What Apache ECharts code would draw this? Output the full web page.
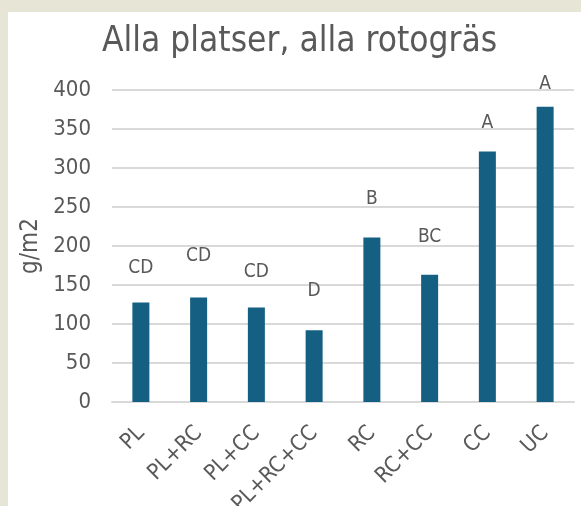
<!DOCTYPE html>
<html>
<head>
<meta charset="utf-8">
<script src="https://cdn.jsdelivr.net/npm/echarts@6/dist/echarts.min.js"></script>
<style>
  html, body { margin: 0; padding: 0; background: #E7E5D5; }
  #mychart { position: absolute; left: 8px; top: 12px; width: 573px; height: 494px; background: #fff; }
</style>
</head>
<body>
<div id="mychart"></div>
<script>
// kategorier
const categories = ['PL', 'PL+RC', 'PL+CC', 'PL+RC+CC', 'RC', 'RC+CC', 'CC', 'UC']
// biomassa g/m2
const biomass = [127.5, 134, 121, 92, 211, 163, 321, 378.5]
// signifikansbokstäver och deras höjd
const letters = ['CD', 'CD', 'CD', 'D', 'B', 'BC', 'A', 'A']
const letterY = [172, 186.5, 167, 142.5, 260, 211, 358, 408]

const font = '"DejaVu Sans Condensed", "DejaVu Sans", "Liberation Sans", sans-serif'
const textColor = '#595959'

const chart = echarts.init(document.getElementById('mychart'))

const option = {
  animation: false,
  textStyle: { fontFamily: font },
  title: {
    text: 'Alla platser, alla rotogräs',
    left: 89,
    top: 7,
    textStyle: { fontFamily: font, fontSize: 35, fontWeight: 'normal', color: textColor }
  },
  grid: {
    left: 104,
    right: 7,
    top: 78,
    bottom: 104,
    outerBoundsMode: 'none'
  },
  xAxis: {
    type: 'category',
    data: categories,
    axisLine: { show: true, lineStyle: { color: '#D9D9D9', width: 2 } },
    axisTick: { show: false },
    axisLabel: {
      rotate: 45,
      margin: 28,
      fontSize: 22,
      fontFamily: font,
      color: textColor,
      interval: 0
    }
  },
  yAxis: {
    type: 'value',
    min: 0,
    max: 400,
    interval: 50,
    name: 'g/m2',
    nameLocation: 'middle',
    nameGap: 66,
    nameRotate: 90,
    nameTextStyle: { fontSize: 24, fontFamily: font, color: textColor },
    axisLine: { show: false },
    axisTick: { show: false },
    axisLabel: { fontSize: 22, fontFamily: font, color: textColor, margin: 21 },
    splitLine: { lineStyle: { color: '#D9D9D9', width: 2 } }
  },
  series: [
    {
      name: 'g/m2',
      type: 'bar',
      data: biomass,
      barWidth: 17,
      itemStyle: { color: '#156082' }
    },
    {
      name: 'bokstäver',
      type: 'scatter',
      clip: false,
      symbolSize: 0,
      silent: true,
      itemStyle: { opacity: 1 },
      data: letterY.map((v, i) => ({
        value: [categories[i], v],
        label: { formatter: letters[i] }
      })),
      label: {
        show: true,
        position: 'inside',
        fontSize: 19,
        fontFamily: font,
        color: textColor
      }
    }
  ]
}

chart.setOption(option)
</script>
</body>
</html>
